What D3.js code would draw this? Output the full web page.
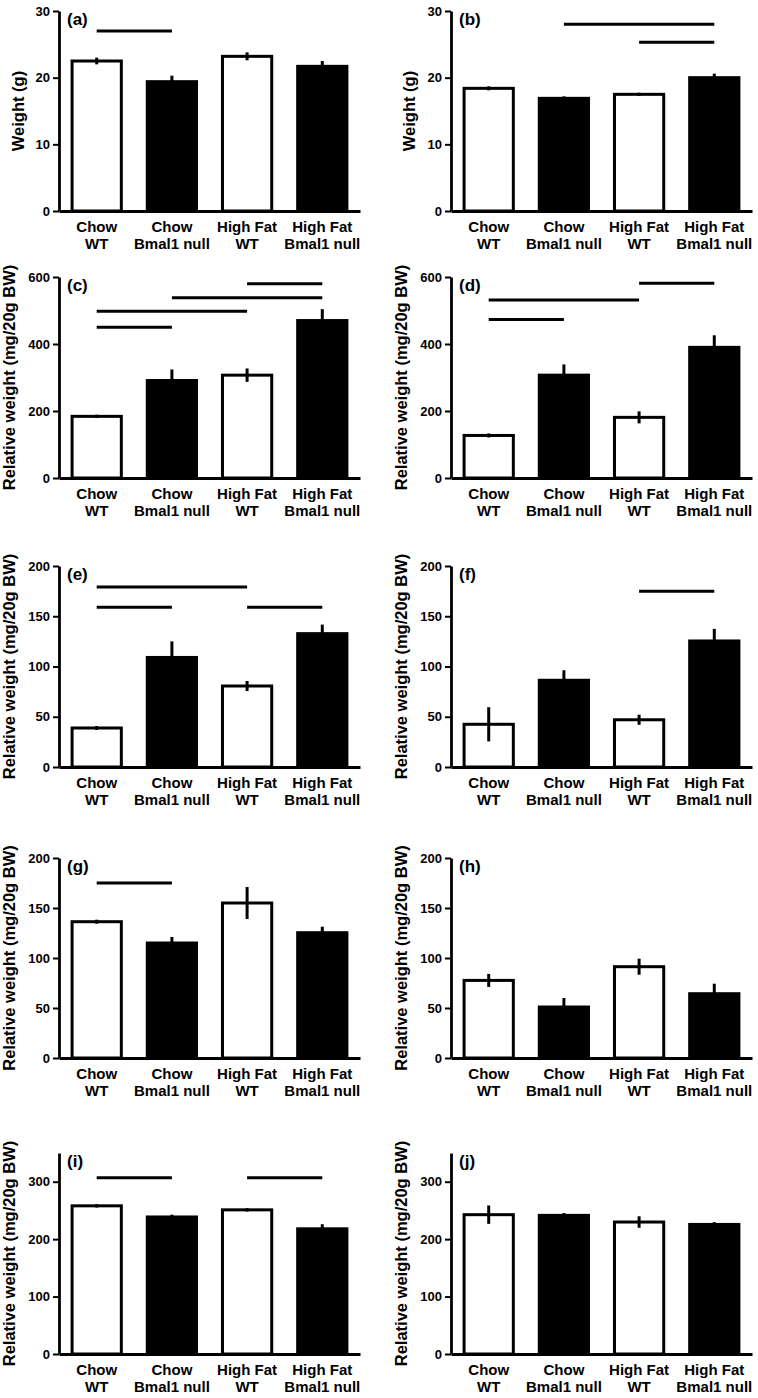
<!DOCTYPE html>
<html><head><meta charset="utf-8">
<script src="https://cdn.jsdelivr.net/npm/d3@7"></script>
<style>body{margin:0;background:#fff}svg{display:block}text{font-family:"Liberation Sans",Arial,sans-serif;font-weight:bold}</style>
</head><body><svg id="chart" width="758" height="1398"></svg>
<script>
// ---- data ----
const categoryLine1 = ["Chow", "Chow", "High Fat", "High Fat"];
const categoryLine2 = ["WT", "Bmal1 null", "WT", "Bmal1 null"];
const barFills = ["white", "black", "white", "black"];
const panelLabels = ["(a)", "(b)", "(c)", "(d)", "(e)", "(f)", "(g)", "(h)", "(i)", "(j)"];
const yTitles = ["Weight (g)", "Weight (g)",
  "Relative weight (mg/20g BW)", "Relative weight (mg/20g BW)",
  "Relative weight (mg/20g BW)", "Relative weight (mg/20g BW)",
  "Relative weight (mg/20g BW)", "Relative weight (mg/20g BW)",
  "Relative weight (mg/20g BW)", "Relative weight (mg/20g BW)"];

const valuesA = [22.5, 19.4, 23.2, 21.7];
const errorsA = [0.5, 0.9, 0.6, 0.8];
const sigA = [[0, 1, 27]];
const valuesB = [18.4, 16.9, 17.5, 20.0];
const errorsB = [0.3, 0.3, 0.25, 0.6];
const sigB = [[1, 3, 28], [2, 3, 25.3]];
const valuesC = [184, 291, 307, 470];
const errorsC = [5, 33, 20, 34];
const sigC = [[2, 3, 580], [1, 3, 538], [0, 2, 498], [0, 1, 450]];
const valuesD = [127, 307, 181, 390];
const errorsD = [6, 32, 18, 36];
const sigD = [[2, 3, 581], [0, 2, 531], [0, 1, 473]];
const valuesE = [38.8, 109, 80.6, 132.7];
const errorsE = [2, 16, 5, 9];
const sigE = [[0, 2, 179], [0, 1, 159], [2, 3, 159]];
const valuesF = [42.5, 86.3, 47, 125.4];
const errorsF = [17, 10, 5, 12];
const sigF = [[2, 3, 175]];
const valuesG = [136.3, 115, 155, 125.3];
const errorsG = [2, 6, 16, 6];
const sigG = [[0, 1, 175]];
const valuesH = [77.6, 51, 91.3, 64.3];
const errorsH = [6.5, 9, 8, 10];
const sigH = [];
const valuesI = [258, 238.6, 251, 218];
const errorsI = [3, 4, 3, 8];
const sigI = [[0, 1, 307], [2, 3, 307]];
const valuesJ = [242.6, 241.4, 229.8, 225.6];
const errorsJ = [16, 4, 10, 4];
const sigJ = [];

const yDomains = [[0, 30], [0, 30], [0, 600], [0, 600], [0, 200], [0, 200], [0, 200], [0, 200], [0, 350], [0, 350]];
const yTicks = [[0, 10, 20, 30], [0, 10, 20, 30], [0, 200, 400, 600], [0, 200, 400, 600],
  [0, 50, 100, 150, 200], [0, 50, 100, 150, 200], [0, 50, 100, 150, 200], [0, 50, 100, 150, 200],
  [0, 100, 200, 300], [0, 100, 200, 300]];

const panelValues = [valuesA, valuesB, valuesC, valuesD, valuesE, valuesF, valuesG, valuesH, valuesI, valuesJ];
const panelErrors = [errorsA, errorsB, errorsC, errorsD, errorsE, errorsF, errorsG, errorsH, errorsI, errorsJ];
const panelSig = [sigA, sigB, sigC, sigD, sigE, sigF, sigG, sigH, sigI, sigJ];

// ---- layout ----
const colAxis = [[59, 360], [451, 752]];
const rowAxis = [[211, 11], [478, 277], [767, 566], [1058, 858], [1354, 1153]];
const FONT = "'Liberation Sans',Arial,sans-serif";

const svg = d3.select("#chart");

panelLabels.forEach((lab, p) => {
  const col = p % 2, row = Math.floor(p / 2);
  const [x0, x1] = colAxis[col];
  const [yb, yt] = rowAxis[row];
  const g = svg.append("g");
  const vals = panelValues[p], errs = panelErrors[p];

  const x = d3.scaleBand().domain(d3.range(4)).range([x0, x1]).paddingInner(0.345).paddingOuter(0.174);
  const y = d3.scaleLinear().domain(yDomains[p]).range([yb, yt]);

  // y axis
  const ya = g.append("g").attr("transform", `translate(${x0},0)`)
    .call(d3.axisLeft(y).tickValues(yTicks[p]).tickSize(6).tickSizeOuter(0).tickPadding(3).tickFormat(d3.format("d")));
  ya.select(".domain").attr("stroke", "black").attr("stroke-width", 2.8);
  ya.selectAll(".tick line").attr("stroke", "black").attr("stroke-width", 2);
  ya.selectAll(".tick text").attr("font-size", 13).attr("font-family", FONT).attr("font-weight", "bold").attr("fill", "black");

  // x axis
  const xa = g.append("g").attr("transform", `translate(0,${yb})`)
    .call(d3.axisBottom(x).tickSize(0).tickSizeOuter(0).tickFormat(""));
  xa.select(".domain").attr("stroke", "black").attr("stroke-width", 2.8);
  xa.selectAll(".tick").each(function (d) {
    const t = d3.select(this).select("text").attr("fill", "black").attr("font-size", 15)
      .attr("font-family", FONT).attr("font-weight", "bold").attr("y", 0).attr("dy", null);
    t.append("tspan").attr("x", 0).attr("y", 21).text(categoryLine1[d]);
    t.append("tspan").attr("x", 0).attr("y", 37.5).text(categoryLine2[d]);
  });

  // bars
  g.selectAll("rect.bar").data(vals).join("rect").attr("class", "bar")
    .attr("x", (d, i) => x(i)).attr("width", x.bandwidth())
    .attr("y", d => y(d)).attr("height", d => y(0) - y(d))
    .attr("fill", (d, i) => barFills[i]).attr("stroke", "black").attr("stroke-width", 3);

  // error bars
  g.selectAll("line.err").data(vals).join("line").attr("class", "err")
    .attr("x1", (d, i) => x(i) + x.bandwidth() / 2).attr("x2", (d, i) => x(i) + x.bandwidth() / 2)
    .attr("y1", (d, i) => y(d - errs[i])).attr("y2", (d, i) => y(d + errs[i]))
    .attr("stroke", "black").attr("stroke-width", 3);

  // significance lines
  g.selectAll("line.sig").data(panelSig[p]).join("line").attr("class", "sig")
    .attr("x1", d => x(d[0]) + x.bandwidth() / 2).attr("x2", d => x(d[1]) + x.bandwidth() / 2)
    .attr("y1", d => y(d[2])).attr("y2", d => y(d[2]))
    .attr("stroke", "black").attr("stroke-width", 3);

  // panel label
  g.append("text").attr("x", x0 + 8).attr("y", yt + 14).attr("font-size", 17).text(lab);

  // y title
  const isW = yTitles[p] === "Weight (g)";
  const bx = col === 0 ? (isW ? 23.5 : 15) : (isW ? 414.5 : 406.5);
  g.append("text").attr("transform", `translate(${bx},${(yb + yt) / 2}) rotate(-90)`)
    .attr("text-anchor", "middle").attr("font-size", 16.5).text(yTitles[p]);
});
</script></body></html>
